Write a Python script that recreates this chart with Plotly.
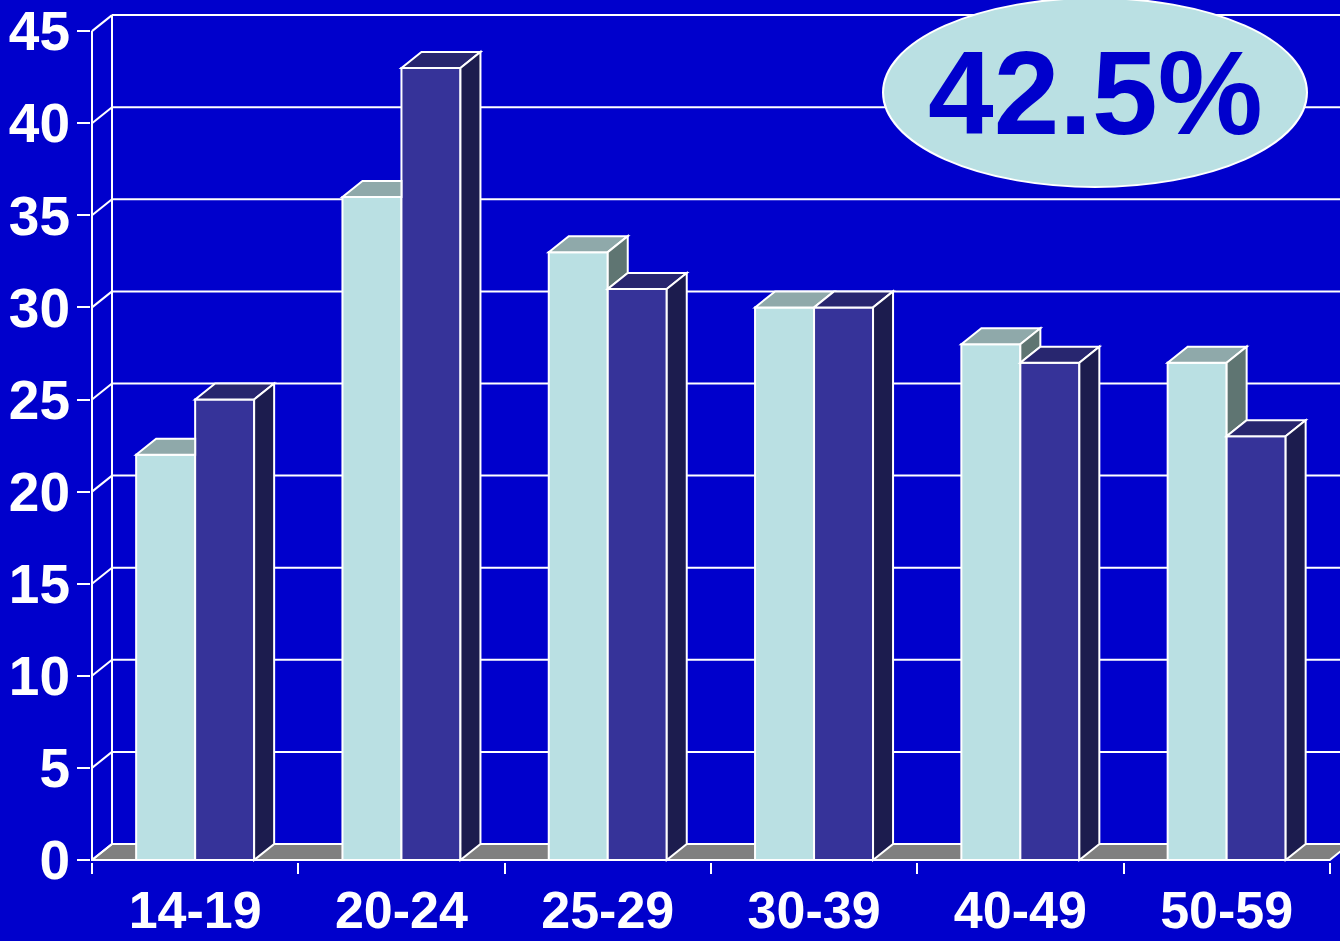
import plotly.graph_objects as go

# ---------------- data ----------------
categories = ["14-19", "20-24", "25-29", "30-39", "40-49", "50-59"]
series_light = [22, 36, 33, 30, 28, 27]
series_dark = [25, 43, 31, 30, 27, 23]
y_tick_values = [0, 5, 10, 15, 20, 25, 30, 35, 40, 45]
callout_text = "42.5%"

# ---------------- styling / geometry ----------------
W, H = 1340, 941
BG = "#0000CC"
LIGHT = dict(front="#BAE0E3", top="#8FA9AA", side="#5F7572")
DARK = dict(front="#363399", top="#28266F", side="#1C1C4E")
FLOOR = "#808080"
EDGE = "white"
FONT = "Liberation Sans, Arial, sans-serif"

ML, MB = 91, 79
PX_PER_CAT = 206.3
PX_PER_UNIT = 18.42
DEPTH_X_PX, DEPTH_Y_PX = 20, 16
BAR_PX = 59

plot_w = W - ML
plot_h = H - MB
x_lo = -0.5 - 1 / PX_PER_CAT
x_hi = x_lo + plot_w / PX_PER_CAT
y_lo = -2 / PX_PER_UNIT
y_hi = y_lo + plot_h / PX_PER_UNIT
ddx = DEPTH_X_PX / PX_PER_CAT
ddy = DEPTH_Y_PX / PX_PER_UNIT
bar_w = BAR_PX / PX_PER_CAT
bargap = 1 - 2 * bar_w
n = len(categories)
y_max = max(y_tick_values)


def poly(pts, fill, layer="above", width=2):
    d = "M " + " L ".join(f"{x},{y}" for x, y in pts) + " Z"
    return dict(type="path", path=d, xref="x", yref="y", fillcolor=fill,
                line=dict(color=EDGE, width=width), layer=layer)


def line(xa, ya, xb, yb, layer="below", width=2):
    return dict(type="line", x0=xa, y0=ya, x1=xb, y1=yb, xref="x", yref="y",
                line=dict(color=EDGE, width=width), layer=layer)


shapes = []
left = -0.5
# floor slab
shapes.append(poly([(left, 0), (n - 0.5, 0), (n - 0.5 + ddx, ddy), (left + ddx, ddy)],
                   FLOOR, layer="below"))
# back wall gridlines and left-side diagonals
for v in y_tick_values:
    if v > 0:
        shapes.append(line(left + ddx, v + ddy, x_hi + 1, v + ddy))
    shapes.append(line(left, v, left + ddx, v + ddy))
# back wall left vertical edge and front axis line
shapes.append(line(left + ddx, ddy, left + ddx, y_max + ddy))
shapes.append(line(left, 0, left, y_max))

# 3D faces of bars
for i, (a, b) in enumerate(zip(series_light, series_dark)):
    lx0, lx1 = i - bar_w, i
    dx0, dx1 = i, i + bar_w
    # light top
    if b > a:
        shapes.append(poly([(lx0, a), (lx1, a), (lx1, a + ddy), (lx0 + ddx, a + ddy)], LIGHT["top"]))
    else:
        shapes.append(poly([(lx0, a), (lx1, a), (lx1 + ddx, a + ddy), (lx0 + ddx, a + ddy)], LIGHT["top"]))
    # light side (only visible part above the dark bar)
    if a > b:
        shapes.append(poly([(lx1, b), (lx1, a), (lx1 + ddx, a + ddy), (lx1 + ddx, b + ddy)], LIGHT["side"]))
    # dark top and side
    shapes.append(poly([(dx0, b), (dx1, b), (dx1 + ddx, b + ddy), (dx0 + ddx, b + ddy)], DARK["top"]))
    shapes.append(poly([(dx1, 0), (dx1, b), (dx1 + ddx, b + ddy), (dx1 + ddx, ddy)], DARK["side"]))

# callout ellipse
ex0, ex1 = (883 - ML) / plot_w, (1307 - ML) / plot_w
ey0, ey1 = (H - MB - 187) / plot_h, (H - MB + 2) / plot_h
shapes.append(dict(type="circle", xref="paper", yref="paper", x0=ex0, x1=ex1, y0=ey0, y1=ey1,
                   fillcolor=LIGHT["front"], line=dict(color=EDGE, width=2), layer="above"))

fig = go.Figure()
fig.add_trace(go.Bar(x=categories, y=series_light, marker=dict(color=LIGHT["front"], line=dict(color=EDGE, width=2)),
                     hoverinfo="skip", showlegend=False))
fig.add_trace(go.Bar(x=categories, y=series_dark, marker=dict(color=DARK["front"], line=dict(color=EDGE, width=2)),
                     hoverinfo="skip", showlegend=False))

fig.add_annotation(x=(ex0 + ex1) / 2, y=(ey0 + ey1) / 2, xref="paper", yref="paper",
                   text=callout_text, showarrow=False, xanchor="center", yanchor="middle",
                   font=dict(family=FONT, size=118, color=BG, weight="bold"))

fig.update_layout(
    width=W, height=H,
    margin=dict(l=ML, r=0, t=0, b=MB, pad=0, autoexpand=False),
    paper_bgcolor=BG, plot_bgcolor=BG,
    barmode="group", bargap=bargap, bargroupgap=0,
    shapes=shapes,
    xaxis=dict(type="category", range=[x_lo, x_hi], showgrid=False, zeroline=False, showline=False,
               ticks="outside", tickson="boundaries", ticklen=11, tickwidth=2, tickcolor=EDGE,
               ticklabelstandoff=13, automargin=False,
               tickfont=dict(family=FONT, size=52, color="white", weight="bold"),
               fixedrange=True),
    yaxis=dict(range=[y_lo, y_hi], tickvals=y_tick_values, showgrid=False, zeroline=False, showline=False,
               ticks="outside", ticklen=13, tickwidth=2, tickcolor=EDGE,
               ticklabelstandoff=-4, automargin=False,
               tickfont=dict(family=FONT, size=55, color="white", weight="bold"),
               fixedrange=True),
)

fig.write_html("out.html")
